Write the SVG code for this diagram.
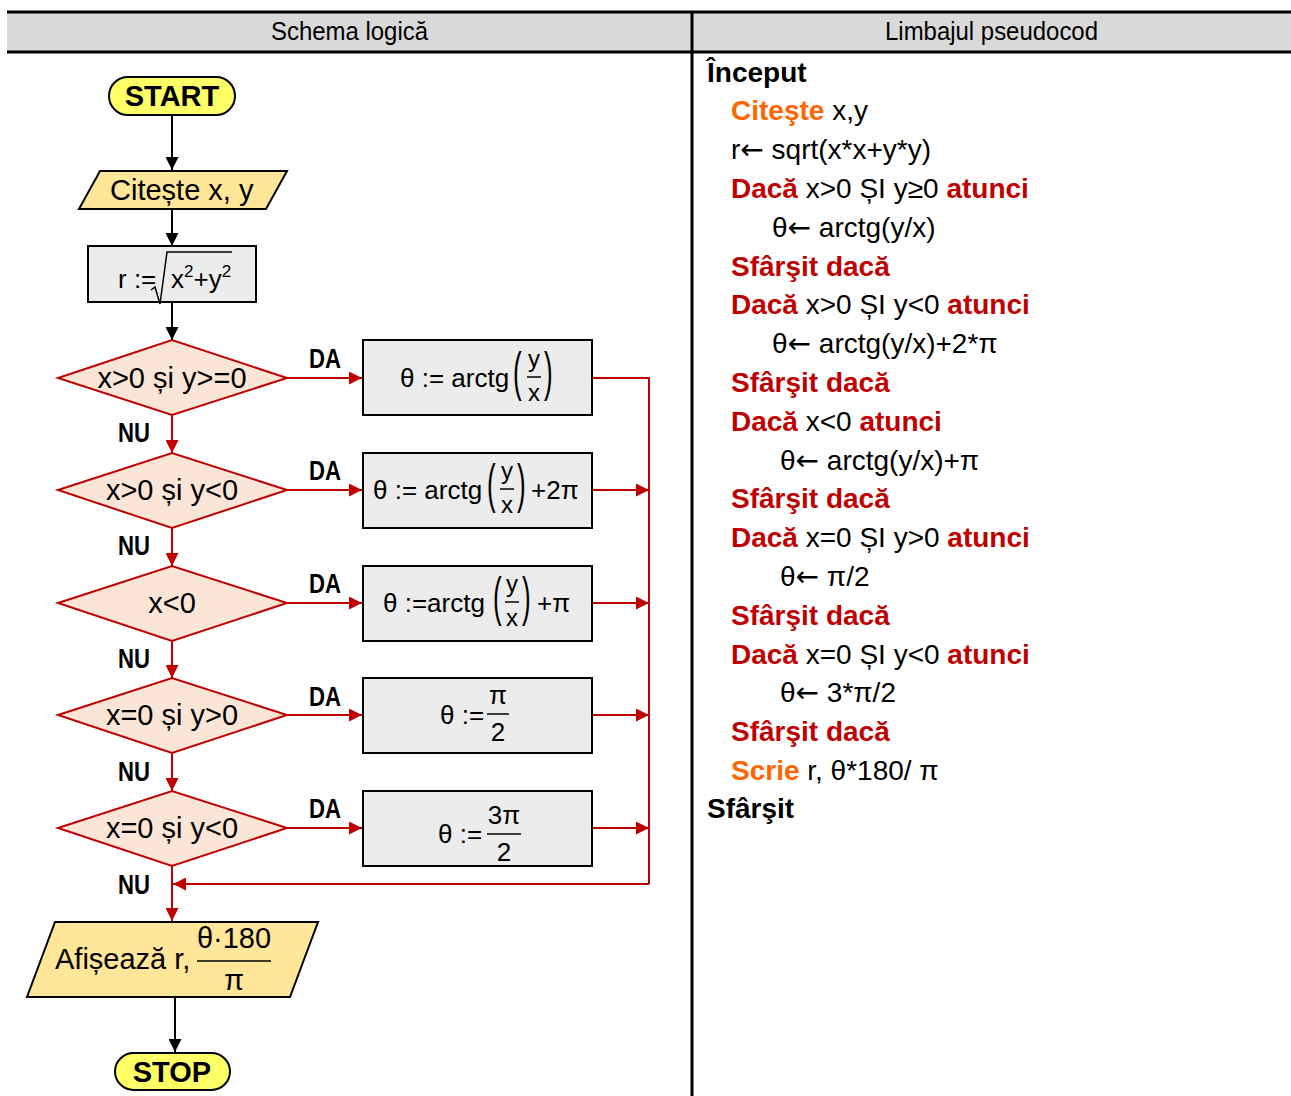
<svg xmlns="http://www.w3.org/2000/svg" width="1291" height="1096" viewBox="0 0 1291 1096">
<style>
text{font-family:"Liberation Sans",Arial,sans-serif;fill:#000}
.hd{font-size:26px}
.f{font-size:29px}
.fs{font-size:26px}
.fr{font-size:24px}
.sup{font-size:17px}
.lbl{font-size:28px;font-weight:bold}
.term{fill:#ffff66;stroke:#000;stroke-width:2}
.io{fill:#ffe699;stroke:#000;stroke-width:2}
.proc{fill:#ececec;stroke:#000;stroke-width:2}
.dec{fill:#fbe5d6;stroke:#c00000;stroke-width:2}
.blk{stroke:#000;stroke-width:2;fill:none}
.red{stroke:#c00000;stroke-width:2;fill:none}
.bar{stroke:#000;stroke-width:1.5}
.pc{font-size:28px}
.b{font-weight:bold}
.rd{fill:#c00000;font-weight:bold}
.or{fill:#ff6600;font-weight:bold}
.arw{font-family:"DejaVu Sans",sans-serif}
.tm{font-size:29px;font-weight:bold}
</style>
<defs>
<marker id="ab" viewBox="0 0 10 10" refX="10" refY="5" markerWidth="13" markerHeight="13" markerUnits="userSpaceOnUse" orient="auto"><path d="M0,0 L10,5 L0,10 z" fill="#000"/></marker>
<marker id="ar" viewBox="0 0 10 10" refX="10" refY="5" markerWidth="13" markerHeight="13" markerUnits="userSpaceOnUse" orient="auto"><path d="M0,0 L10,5 L0,10 z" fill="#c00000"/></marker>
</defs>
<rect width="1291" height="1096" fill="#fff"/>
<g id="header">
<rect x="7" y="12" width="1284" height="40" fill="#d9d9d9"/>
<line x1="7" y1="12" x2="1291" y2="12" stroke="#000" stroke-width="3"/>
<line x1="7" y1="52" x2="1291" y2="52" stroke="#000" stroke-width="3"/>
<line x1="692" y1="12" x2="692" y2="1096" stroke="#000" stroke-width="3"/>
<text class="hd" x="271" y="40" textLength="157" lengthAdjust="spacingAndGlyphs">Schema logică</text>
<text class="hd" x="885" y="40" textLength="213" lengthAdjust="spacingAndGlyphs">Limbajul pseudocod</text>
</g>
<g id="connectors">
<line class="blk" x1="172" y1="115" x2="172" y2="170" marker-end="url(#ab)"/>
<line class="blk" x1="172" y1="209" x2="172" y2="246" marker-end="url(#ab)"/>
<line class="blk" x1="172" y1="303" x2="172" y2="340" marker-end="url(#ab)"/>
<line class="red" x1="287" y1="378" x2="362" y2="378" marker-end="url(#ar)"/>
<line class="red" x1="287" y1="490" x2="362" y2="490" marker-end="url(#ar)"/>
<line class="red" x1="287" y1="603" x2="362" y2="603" marker-end="url(#ar)"/>
<line class="red" x1="287" y1="715" x2="362" y2="715" marker-end="url(#ar)"/>
<line class="red" x1="287" y1="828" x2="362" y2="828" marker-end="url(#ar)"/>
<line class="red" x1="172" y1="415" x2="172" y2="453" marker-end="url(#ar)"/>
<line class="red" x1="172" y1="528" x2="172" y2="566" marker-end="url(#ar)"/>
<line class="red" x1="172" y1="641" x2="172" y2="678" marker-end="url(#ar)"/>
<line class="red" x1="172" y1="753" x2="172" y2="791" marker-end="url(#ar)"/>
<line class="red" x1="172" y1="866" x2="172" y2="921" marker-end="url(#ar)"/>
<polyline class="red" points="592,378 649,378 649,884"/>
<line class="red" x1="592" y1="490" x2="649" y2="490" marker-end="url(#ar)"/>
<line class="red" x1="592" y1="603" x2="649" y2="603" marker-end="url(#ar)"/>
<line class="red" x1="592" y1="715" x2="649" y2="715" marker-end="url(#ar)"/>
<line class="red" x1="592" y1="828" x2="649" y2="828" marker-end="url(#ar)"/>
<line class="red" x1="649" y1="884" x2="173" y2="884" marker-end="url(#ar)"/>
<line class="blk" x1="175" y1="997" x2="175" y2="1052" marker-end="url(#ab)"/>
<text class="lbl" x="309" y="368" textLength="32" lengthAdjust="spacingAndGlyphs">DA</text>
<text class="lbl" x="309" y="480" textLength="32" lengthAdjust="spacingAndGlyphs">DA</text>
<text class="lbl" x="309" y="593" textLength="32" lengthAdjust="spacingAndGlyphs">DA</text>
<text class="lbl" x="309" y="706" textLength="32" lengthAdjust="spacingAndGlyphs">DA</text>
<text class="lbl" x="309" y="818" textLength="32" lengthAdjust="spacingAndGlyphs">DA</text>
<text class="lbl" x="118" y="442" textLength="32" lengthAdjust="spacingAndGlyphs">NU</text>
<text class="lbl" x="118" y="555" textLength="32" lengthAdjust="spacingAndGlyphs">NU</text>
<text class="lbl" x="118" y="668" textLength="32" lengthAdjust="spacingAndGlyphs">NU</text>
<text class="lbl" x="118" y="781" textLength="32" lengthAdjust="spacingAndGlyphs">NU</text>
<text class="lbl" x="118" y="894" textLength="32" lengthAdjust="spacingAndGlyphs">NU</text>
</g>
<g id="start">
<rect class="term" x="109" y="77" width="126" height="38" rx="19"/>
<text class="tm" x="172" y="106" text-anchor="middle">START</text>
</g>
<g id="read">
<polygon class="io" points="100,171 287,171 266,209 79,209"/>
<text class="f" x="110" y="200">Citește x, y</text>
</g>
<g id="calc_r">
<rect class="proc" x="88" y="246" width="168" height="56"/>
<text class="fs" x="118" y="288">r :=</text>
<path d="M151,290 L155,287 L160,304 L167,252 L232,252" fill="none" stroke="#000" stroke-width="1.5"/>
<text class="fs" x="171" y="288">x<tspan class="sup" dy="-11">2</tspan><tspan dy="11">+y</tspan><tspan class="sup" dy="-11">2</tspan></text>
</g>
<g id="dec1">
<polygon class="dec" points="58,378 172,340 287,378 172,415"/>
<text class="f" x="172" y="388" text-anchor="middle">x&gt;0 și y&gt;=0</text>
</g>
<g id="dec2">
<polygon class="dec" points="58,490 172,453 287,490 172,528"/>
<text class="f" x="172" y="500" text-anchor="middle">x&gt;0 și y&lt;0</text>
</g>
<g id="dec3">
<polygon class="dec" points="58,603 172,566 287,603 172,641"/>
<text class="f" x="172" y="613" text-anchor="middle">x&lt;0</text>
</g>
<g id="dec4">
<polygon class="dec" points="58,715 172,678 287,715 172,753"/>
<text class="f" x="172" y="725" text-anchor="middle">x=0 și y&gt;0</text>
</g>
<g id="dec5">
<polygon class="dec" points="58,828 172,791 287,828 172,866"/>
<text class="f" x="172" y="838" text-anchor="middle">x=0 și y&lt;0</text>
</g>
<g id="box1">
<rect class="proc" x="363" y="340" width="229" height="75"/>
<text class="fs" x="400" y="387">θ := arctg</text>
<text font-size="26" transform="translate(513,390) scale(1,2.05)">(</text>
<text font-size="26" transform="translate(544,390) scale(1,2.05)">)</text>
<text class="fr" x="534" y="367" text-anchor="middle">y</text>
<line class="bar" x1="527" y1="377" x2="541" y2="377"/>
<text class="fr" x="534" y="401" text-anchor="middle">x</text>
</g>
<g id="box2">
<rect class="proc" x="363" y="453" width="229" height="75"/>
<text class="fs" x="373" y="499">θ := arctg</text>
<text font-size="26" transform="translate(487,502) scale(1,2.05)">(</text>
<text font-size="26" transform="translate(517,502) scale(1,2.05)">)</text>
<text class="fr" x="507" y="479" text-anchor="middle">y</text>
<line class="bar" x1="500" y1="489" x2="514" y2="489"/>
<text class="fr" x="507" y="513" text-anchor="middle">x</text>
<text class="fs" x="531" y="499">+2π</text>
</g>
<g id="box3">
<rect class="proc" x="363" y="566" width="229" height="75"/>
<text class="fs" x="383" y="612">θ :=arctg</text>
<text font-size="26" transform="translate(493,615) scale(1,2.05)">(</text>
<text font-size="26" transform="translate(522,615) scale(1,2.05)">)</text>
<text class="fr" x="512" y="592" text-anchor="middle">y</text>
<line class="bar" x1="505" y1="602" x2="519" y2="602"/>
<text class="fr" x="512" y="626" text-anchor="middle">x</text>
<text class="fs" x="537" y="612">+π</text>
</g>
<g id="box4">
<rect class="proc" x="363" y="678" width="229" height="75"/>
<text class="fs" x="440" y="724">θ :=</text>
<text class="fs" x="498" y="704" text-anchor="middle">π</text>
<line class="bar" x1="487" y1="714" x2="509" y2="714"/>
<text class="fs" x="498" y="741" text-anchor="middle">2</text>
</g>
<g id="box5">
<rect class="proc" x="363" y="791" width="229" height="75"/>
<text class="fs" x="438" y="843">θ :=</text>
<text class="fs" x="504" y="824" text-anchor="middle">3π</text>
<line class="bar" x1="487" y1="834" x2="521" y2="834"/>
<text class="fs" x="504" y="861" text-anchor="middle">2</text>
</g>
<g id="output">
<polygon class="io" points="55,922 318,922 290,997 27,997"/>
<text class="f" x="55" y="969">Afișează r,</text>
<text class="f" x="234" y="948" text-anchor="middle">θ·180</text>
<line class="bar" x1="197" y1="961" x2="271" y2="961"/>
<text class="f" x="234" y="990" text-anchor="middle">π</text>
</g>
<g id="stop">
<rect class="term" x="115" y="1053" width="115" height="37" rx="18.5"/>
<text class="tm" x="172" y="1082" text-anchor="middle">STOP</text>
</g>
<g id="pseudocode">
<text class="pc b" x="707" y="82">Început</text>
<text class="pc" x="731" y="120"><tspan class="or">Citeşte</tspan> x,y</text>
<text class="pc" x="731" y="159">r<tspan class="arw">←</tspan> sqrt(x*x+y*y)</text>
<text class="pc" x="731" y="198"><tspan class="rd">Dacă</tspan> x&gt;0 ȘI y≥0 <tspan class="rd">atunci</tspan></text>
<text class="pc" x="772" y="237">θ<tspan class="arw">←</tspan> arctg(y/x)</text>
<text class="pc rd" x="731" y="276">Sfârşit dacă</text>
<text class="pc" x="731" y="314"><tspan class="rd">Dacă</tspan> x&gt;0 ȘI y&lt;0 <tspan class="rd">atunci</tspan></text>
<text class="pc" x="772" y="353">θ<tspan class="arw">←</tspan> arctg(y/x)+2*π</text>
<text class="pc rd" x="731" y="392">Sfârşit dacă</text>
<text class="pc" x="731" y="431"><tspan class="rd">Dacă</tspan> x&lt;0 <tspan class="rd">atunci</tspan></text>
<text class="pc" x="780" y="470">θ<tspan class="arw">←</tspan> arctg(y/x)+π</text>
<text class="pc rd" x="731" y="508">Sfârşit dacă</text>
<text class="pc" x="731" y="547"><tspan class="rd">Dacă</tspan> x=0 ȘI y&gt;0 <tspan class="rd">atunci</tspan></text>
<text class="pc" x="780" y="586">θ<tspan class="arw">←</tspan> π/2</text>
<text class="pc rd" x="731" y="625">Sfârşit dacă</text>
<text class="pc" x="731" y="664"><tspan class="rd">Dacă</tspan> x=0 ȘI y&lt;0 <tspan class="rd">atunci</tspan></text>
<text class="pc" x="780" y="702">θ<tspan class="arw">←</tspan> 3*π/2</text>
<text class="pc rd" x="731" y="741">Sfârşit dacă</text>
<text class="pc" x="731" y="780"><tspan class="or">Scrie</tspan> r, θ*180/ π</text>
<text class="pc b" x="707" y="818">Sfârşit</text>
</g>
</svg>
